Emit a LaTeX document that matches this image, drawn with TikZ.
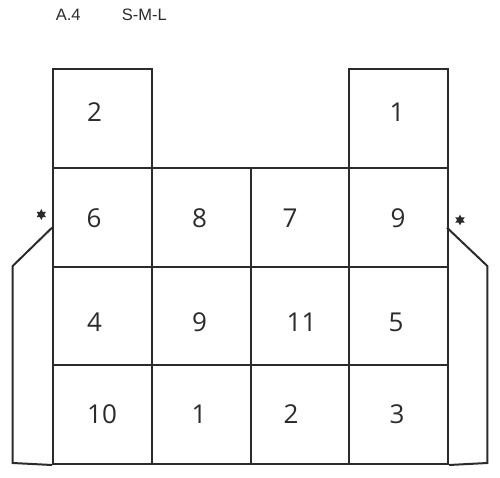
\documentclass[tikz,border=0pt]{standalone}
\usepackage{fontspec}
\setmainfont{Open Sans}
\newfontfamily\hdrfont{Liberation Sans}
\usetikzlibrary{shapes.geometric}
\definecolor{ink}{HTML}{2B2B2B}
\begin{document}
\begin{tikzpicture}[x=1pt,y=-1pt,
  cell/.style={draw=ink,line width=2pt,minimum size=98.75pt,inner sep=0pt,anchor=north west},
  num/.style={font=\fontsize{26}{26}\selectfont,text=ink,inner sep=0pt},
  hd/.style={font=\hdrfont\fontsize{16.5}{16.5}\selectfont,text=ink,anchor=base west,inner sep=0pt},
  sixstar/.style={star,star points=6,star point ratio=1.9,minimum size=11pt,inner sep=0pt,fill=ink,draw=none},
  side/.style={draw=ink,line width=2pt,line join=miter}]
\useasboundingbox (0,0) rectangle (500,478);
% header
\node[hd] (title) at (55.7,20.7) {A.4};
\node[hd] (sizes) at (121.7,20.7) {S-M-L};
% cells
\node[cell] (r1c1) at (52,68) {};
\node[cell] (r1c4) at (348.25,68) {};
\foreach \r/\y in {2/166.75,3/265.5,4/364.25}{
  \foreach \c/\x in {1/52,2/150.75,3/249.5,4/348.25}{
    \node[cell] (r\r c\c) at (\x,\y) {};
  }
}
% numbers
\node[num] (n11) at (94.5,112.5) {2};
\node[num] (n14) at (397,112.5) {1};
\node[num] (n21) at (94,218) {6};
\node[num] (n22) at (199.5,218) {8};
\node[num] (n23) at (290,218) {7};
\node[num] (n24) at (398,218) {9};
\node[num] (n31) at (94.5,322.5) {4};
\node[num] (n32) at (199.5,322.5) {9};
\node[num] (n33) at (301.5,322.5) {11};
\node[num] (n34) at (396,322.5) {5};
\node[num] (n41) at (102,414.5) {10};
\node[num] (n42) at (199,414.5) {1};
\node[num] (n43) at (291,414.5) {2};
\node[num] (n44) at (397,414.5) {3};
% side panels
\coordinate (lt) at (52,227.7);
\coordinate (lk) at (12.7,266);
\coordinate (lb) at (12.7,463);
\coordinate (rt) at (447,227.7);
\coordinate (rk) at (487.3,266);
\coordinate (rb) at (487.3,463);
\draw[side] (lt) -- (lk) -- (lb) -- (r4c1.south west);
\draw[side] (rt) -- (rk) -- (rb) -- (r4c4.south east);
% stars
\node[sixstar] (sl) at (41.3,214.5) {};
\node[sixstar] (sr) at (460,220) {};
\end{tikzpicture}
\end{document}
